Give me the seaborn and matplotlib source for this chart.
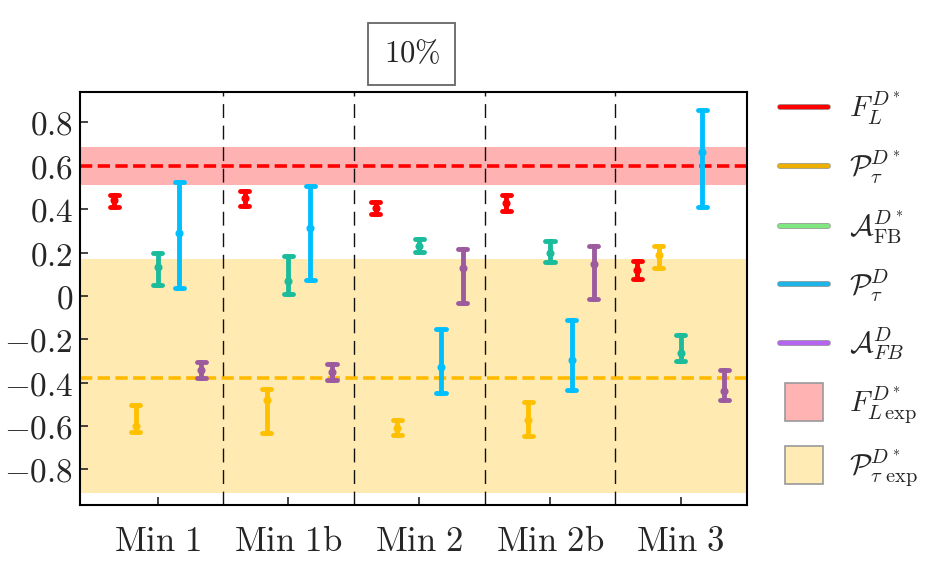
import numpy as np
import pandas as pd
import seaborn as sns
import matplotlib
matplotlib.use("Agg")
import matplotlib.pyplot as plt
from matplotlib.lines import Line2D
import matplotlib.patheffects as pe

# ---------------- data ----------------
minima = ["Min 1", "Min 1b", "Min 2", "Min 2b", "Min 3"]
tick_labels = [r"$\mathrm{Min\ 1}$", r"$\mathrm{Min\ 1b}$", r"$\mathrm{Min\ 2}$",
               r"$\mathrm{Min\ 2b}$", r"$\mathrm{Min\ 3}$"]
observables = ["FL_Dst", "Ptau_Dst", "AFB_Dst", "Ptau_D", "AFB_D"]

FL_Dst_c = [0.44, 0.45, 0.405, 0.43, 0.12]
FL_Dst_lo = [0.412, 0.416, 0.377, 0.391, 0.078]
FL_Dst_hi = [0.465, 0.484, 0.434, 0.464, 0.160]

Ptau_Dst_c = [-0.60, -0.48, -0.61, -0.57, 0.19]
Ptau_Dst_lo = [-0.626, -0.634, -0.642, -0.644, 0.130]
Ptau_Dst_hi = [-0.504, -0.430, -0.573, -0.488, 0.231]

AFB_Dst_c = [0.134, 0.07, 0.23, 0.20, -0.265]
AFB_Dst_lo = [0.050, 0.008, 0.201, 0.158, -0.300]
AFB_Dst_hi = [0.196, 0.185, 0.262, 0.254, -0.178]

Ptau_D_c = [0.288, 0.311, -0.327, -0.296, 0.664]
Ptau_D_lo = [0.035, 0.075, -0.449, -0.434, 0.411]
Ptau_D_hi = [0.526, 0.505, -0.153, -0.112, 0.856]

AFB_D_c = [-0.34, -0.35, 0.127, 0.147, -0.44]
AFB_D_lo = [-0.380, -0.388, -0.034, -0.014, -0.480]
AFB_D_hi = [-0.307, -0.312, 0.216, 0.229, -0.342]

FL_exp = 0.60
FL_exp_err = 0.087
Ptau_exp = -0.38
Ptau_exp_lo = -0.91
Ptau_exp_hi = 0.17

yticks = [-0.8, -0.6, -0.4, -0.2, 0, 0.2, 0.4, 0.6, 0.8]
ytick_labels = [r"$-0.8$", r"$-0.6$", r"$-0.4$", r"$-0.2$", r"$0$",
                r"$0.2$", r"$0.4$", r"$0.6$", r"$0.8$"]

legend_labels = [r"$F_L^{D^*}$", r"$\mathcal{P}_\tau^{D^*}$", r"$\mathcal{A}_{\rm FB}^{D^*}$",
                 r"$\mathcal{P}_\tau^{D}$", r"$\mathcal{A}_{FB}^{D}$",
                 r"$F_{L\,\rm exp}^{D^*}$", r"$\mathcal{P}_{\tau\ \rm exp}^{D^*}$"]

series = {
    "FL_Dst": (FL_Dst_lo, FL_Dst_c, FL_Dst_hi),
    "Ptau_Dst": (Ptau_Dst_lo, Ptau_Dst_c, Ptau_Dst_hi),
    "AFB_Dst": (AFB_Dst_lo, AFB_Dst_c, AFB_Dst_hi),
    "Ptau_D": (Ptau_D_lo, Ptau_D_c, Ptau_D_hi),
    "AFB_D": (AFB_D_lo, AFB_D_c, AFB_D_hi),
}
rows = []
for obs, (lo, c, hi) in series.items():
    for i, m in enumerate(minima):
        for v in (lo[i], c[i], hi[i]):
            rows.append({"minimum": m, "observable": obs, "value": v})
df = pd.DataFrame(rows)

# ---------------- style ----------------
sns.set_style("ticks")
plt.rcParams["mathtext.fontset"] = "cm"
plt.rcParams["font.family"] = ["DejaVu Serif"]

palette = {"FL_Dst": "#FF0000", "Ptau_Dst": "#FFC000", "AFB_Dst": "#1ABC9C",
           "Ptau_D": "#00BFFF", "AFB_D": "#9C5B9E"}
legend_colors = ["#FF0000", "#EDB000", "#80E680", "#1EB4E6", "#B464F0"]

fig = plt.figure(figsize=(9.42, 5.71), dpi=100)
ax = fig.add_axes([80 / 942, 1 - 505 / 571, (747 - 80) / 942, (505 - 92) / 571])

# experimental bands
ax.axhspan(FL_exp - FL_exp_err, FL_exp + FL_exp_err, color="#FF0000", alpha=0.3, lw=0, zorder=0)
ax.axhspan(Ptau_exp_lo, Ptau_exp_hi, color="#FFC000", alpha=0.3, lw=0, zorder=0)
ax.axhline(FL_exp, color="#FF0000", lw=2.6, dashes=(3.4, 1.5), zorder=1)
ax.axhline(Ptau_exp, color="#FFBA00", lw=2.6, dashes=(3.4, 1.5), zorder=1)

for xv in [0.5, 1.5, 2.5, 3.5]:
    ax.axvline(xv, color="#111111", lw=1.0, dashes=(10, 5.5), zorder=1)

sns.pointplot(data=df, x="minimum", y="value", hue="observable", order=minima,
              hue_order=observables, palette=palette, estimator=np.median,
              errorbar=lambda v: (v.min(), v.max()), dodge=2 / 3,
              linestyle="none", markers="o", markersize=3.8, capsize=0.07,
              err_kws={"linewidth": 3.5}, legend=False, ax=ax, zorder=3)

ax.set_xlim(-0.594, 4.507)
ax.set_ylim(-0.964, 0.94)
ax.set_xticks(range(len(minima)))
ax.set_xticklabels(tick_labels, fontsize=25)
ax.set_yticks(yticks)
ax.set_yticklabels(ytick_labels, fontsize=24)
ax.set_xlabel("")
ax.set_ylabel("")
ax.tick_params(axis="both", direction="in", length=6, width=1.2)
ax.tick_params(axis="x", pad=14)
ax.tick_params(axis="y", pad=5)
for sp in ax.spines.values():
    sp.set_visible(True)
    sp.set_linewidth(1.5)
    sp.set_color("black")

# title box
fig.text(411.7 / 942, 1 - 54 / 571, r"$10\%$", fontsize=22, ha="center", va="center",
         bbox=dict(boxstyle="square,pad=0.5", fc="white", ec="#666666", lw=1.3))

# legend
handles = []
for col in legend_colors:
    handles.append(Line2D([0], [0], color=col, lw=3.0,
                          path_effects=[pe.withStroke(linewidth=4.2, foreground="#9a9a9a"), pe.Normal()]))
handles.append(Line2D([0], [0], marker="s", markersize=27, linestyle="none",
                      markerfacecolor="#FFB3B3", markeredgecolor="#999999", markeredgewidth=1.2))
handles.append(Line2D([0], [0], marker="s", markersize=27, linestyle="none",
                      markerfacecolor="#FFEBB3", markeredgecolor="#999999", markeredgewidth=1.2))
fig.legend(handles, legend_labels, loc="center left", bbox_to_anchor=(780 / 942, 1 - 289 / 571),
           frameon=False, fontsize=21, handlelength=1.65, handletextpad=0.7,
           borderpad=0, borderaxespad=0, labelspacing=0.75)

fig.savefig("out.png", dpi=100)
